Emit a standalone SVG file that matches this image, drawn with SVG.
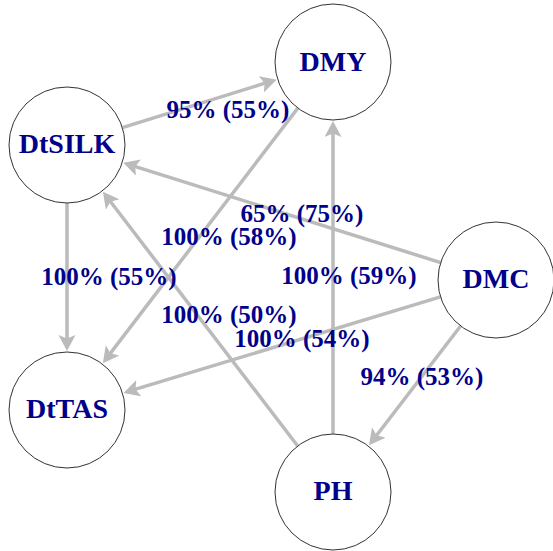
<svg xmlns="http://www.w3.org/2000/svg" width="553" height="551" viewBox="0 0 553 551">
<defs>
<marker id="ah" markerUnits="userSpaceOnUse" markerWidth="18" markerHeight="18" refX="4" refY="8.5" orient="auto">
<path d="M0,0 L16,8.5 L0,17 L3.5,8.5 z" fill="#BBBBBB"/>
</marker>
<style>
.e{stroke:#BBBBBB;stroke-width:3.5;fill:none;marker-end:url(#ah)}
.n{fill:#FFFFFF;stroke:#333333;stroke-width:1}
.nl{font-weight:bold;font-size:28px;fill:#00008B;text-anchor:middle}
.el{font-weight:bold;font-size:25px;fill:#00008B;text-anchor:middle}
</style>
</defs>
<rect width="553" height="551" fill="#FFFFFF"/>
<g id="connectors">
<line class="e" x1="122.4" y1="127.7" x2="265.1" y2="83.2"/>
<line class="e" x1="297.8" y1="108.1" x2="110.1" y2="353.6"/>
<line class="e" x1="67" y1="203" x2="67" y2="339"/>
<line class="e" x1="440.7" y1="262.6" x2="134.7" y2="166.3"/>
<line class="e" x1="297.7" y1="446" x2="110.2" y2="201.3"/>
<line class="e" x1="333" y1="434" x2="333" y2="133"/>
<line class="e" x1="440.5" y1="296.8" x2="135" y2="389.4"/>
<line class="e" x1="460.6" y1="326" x2="376.3" y2="435.7"/>
</g>
<g id="edge-labels" font-family="Liberation Serif, Times New Roman, Times, serif">
<text class="el" x="228" y="118">95% (55%)</text>
<text class="el" x="302" y="222">65% (75%)</text>
<text class="el" x="229" y="245">100% (58%)</text>
<text class="el" x="109" y="285">100% (55%)</text>
<text class="el" x="349" y="284">100% (59%)</text>
<text class="el" x="229" y="323">100% (50%)</text>
<text class="el" x="302" y="347">100% (54%)</text>
<text class="el" x="422" y="385">94% (53%)</text>
</g>
<g id="DMY" font-family="Liberation Serif, Times New Roman, Times, serif"><circle class="n" cx="333" cy="62" r="58"/><text class="nl" x="333" y="71">DMY</text></g>
<g id="DtSILK" font-family="Liberation Serif, Times New Roman, Times, serif"><circle class="n" cx="67" cy="145" r="58"/><text class="nl" x="67" y="153">DtSILK</text></g>
<g id="DtTAS" font-family="Liberation Serif, Times New Roman, Times, serif"><circle class="n" cx="67" cy="410" r="58"/><text class="nl" x="67" y="418">DtTAS</text></g>
<g id="PH" font-family="Liberation Serif, Times New Roman, Times, serif"><circle class="n" cx="333" cy="492" r="58"/><text class="nl" x="333" y="500">PH</text></g>
<g id="DMC" font-family="Liberation Serif, Times New Roman, Times, serif"><circle class="n" cx="496" cy="280" r="58"/><text class="nl" x="496" y="288">DMC</text></g>
</svg>
